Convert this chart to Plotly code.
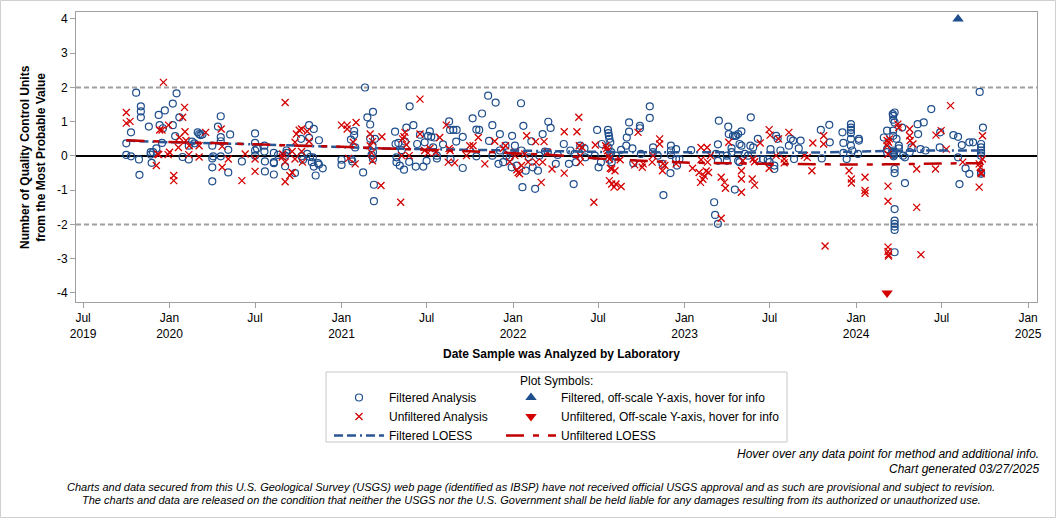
import plotly.graph_objects as go

# ---------------- data ----------------
filtered = [
("2019-10-01",0.37),("2019-10-01",0.03),("2019-10-11",0.69),("2019-10-11",-0.01),("2019-10-22",1.85),
("2019-10-28",-0.10),("2019-10-29",-0.55),("2019-11-01",1.45),("2019-11-01",1.30),("2019-11-01",1.13),
("2019-11-18",0.86),("2019-11-22",0.11),("2019-11-22",0.04),("2019-11-24",-0.20),("2019-11-27",0.11),
("2019-12-04",0.22),("2019-12-09",1.20),("2019-12-11",0.90),("2019-12-16",0.38),("2019-12-18",0.81),
("2019-12-22",1.33),("2020-01-08",1.53),("2020-01-08",0.90),("2020-01-13",0.58),("2020-01-16",1.83),
("2020-01-22",1.13),("2020-01-29",-0.03),("2020-02-11",-0.10),("2020-02-11",0.30),("2020-02-18",0.42),
("2020-02-23",0.37),("2020-03-01",0.69),("2020-03-04",0.64),("2020-03-07",0.61),("2020-03-11",0.63),
("2020-04-01",0.30),("2020-04-01",-0.07),("2020-04-01",-0.33),("2020-04-01",-0.74),("2020-04-03",-0.01),
("2020-04-13",0.86),("2020-04-19",1.16),("2020-04-19",0.55),("2020-04-19",0.43),("2020-04-19",-0.01),
("2020-05-05",0.18),("2020-05-05",-0.48),("2020-05-09",0.63),("2020-06-03",-0.16),("2020-07-01",0.66),
("2020-07-01",0.38),("2020-07-01",0.16),("2020-07-01",0.01),("2020-07-05",0.22),("2020-07-21",0.30),
("2020-07-21",0.13),("2020-07-22",-0.16),("2020-07-22",-0.45),("2020-08-10",0.09),("2020-08-10",-0.18),
("2020-08-10",-0.21),("2020-08-10",-0.54),("2020-08-19",0.03),("2020-09-03",0.01),("2020-09-03",-0.30),
("2020-09-06",0.16),("2020-09-06",0.09),("2020-09-24",-0.50),("2020-10-07",0.50),("2020-10-08",-0.01),
("2020-10-11",-0.11),("2020-10-20",0.06),("2020-10-24",0.90),("2020-10-24",0.53),("2020-10-26",-0.03),
("2020-10-30",-0.18),("2020-11-01",-0.04),("2020-11-03",0.79),("2020-11-03",-0.31),("2020-11-07",-0.57),
("2020-11-12",-0.21),("2020-11-14",-0.25),("2020-11-14",0.46),("2020-11-22",-0.36),("2021-01-01",-0.11),
("2021-01-01",-0.26),("2021-01-21",0.48),("2021-01-22",-0.09),("2021-01-24",-0.16),("2021-01-28",0.73),
("2021-01-28",0.61),("2021-01-30",0.25),("2021-02-16",-0.48),("2021-02-20",2.00),("2021-02-25",1.13),
("2021-03-03",0.92),("2021-03-03",0.51),("2021-03-06",0.03),("2021-03-08",0.30),("2021-03-09",1.29),
("2021-03-09",0.11),("2021-03-09",-0.09),("2021-03-11",-0.84),("2021-03-11",-1.32),("2021-03-13",0.50),
("2021-04-25",0.71),("2021-04-26",0.35),("2021-04-28",-0.04),("2021-04-28",-0.18),("2021-05-02",0.38),
("2021-05-05",-0.28),("2021-05-09",0.17),("2021-05-14",-0.40),("2021-05-16",0.42),("2021-05-19",0.83),
("2021-05-25",-0.17),("2021-05-26",1.45),("2021-06-03",0.90),("2021-06-08",-0.31),("2021-06-11",0.35),
("2021-06-17",0.62),("2021-06-24",-0.31),("2021-06-27",0.40),("2021-07-01",-0.14),("2021-07-04",0.59),
("2021-07-08",0.72),("2021-07-11",0.56),("2021-07-15",0.25),("2021-07-18",0.54),("2021-07-23",0.01),
("2021-07-23",-0.07),("2021-08-05",0.34),("2021-08-18",1.01),("2021-08-20",0.76),("2021-08-21",-0.09),
("2021-08-27",0.76),("2021-09-02",0.42),("2021-09-03",0.76),("2021-09-16",0.56),("2021-09-16",-0.35),
("2021-10-07",1.10),("2021-10-15",0.77),("2021-10-15",-0.01),("2021-10-21",0.76),("2021-10-27",1.24),
("2021-11-09",1.76),("2021-11-11",0.44),("2021-11-18",0.90),("2021-11-18",0.01),("2021-11-25",1.56),
("2021-12-01",-0.23),("2021-12-04",0.64),("2021-12-04",0.16),("2021-12-11",-0.18),("2021-12-16",0.30),
("2021-12-18",0.01),("2021-12-25",-0.04),("2021-12-29",-0.33),("2021-12-30",0.59),("2022-01-05",0.30),
("2022-01-09",-0.28),("2022-01-18",1.54),("2022-01-19",0.16),("2022-01-21",-0.91),("2022-01-23",0.88),
("2022-01-28",-0.43),("2022-02-04",-0.04),("2022-02-09",0.43),("2022-02-12",-0.33),("2022-02-17",-0.96),
("2022-02-23",-0.43),("2022-02-26",0.01),("2022-03-05",0.64),("2022-03-10",0.13),("2022-03-16",0.11),
("2022-03-17",1.00),("2022-03-22",0.82),("2022-04-02",-0.23),("2022-04-06",0.03),("2022-04-19",0.35),
("2022-04-30",-0.23),("2022-05-03",0.16),("2022-05-10",-0.82),("2022-05-12",0.06),("2022-05-15",-0.18),
("2022-05-24",0.30),("2022-06-02",0.22),("2022-06-04",-0.04),("2022-06-24",0.01),("2022-06-29",0.76),
("2022-07-02",-0.33),("2022-07-07",-0.18),("2022-07-09",0.35),("2022-07-22",0.76),("2022-07-23",0.67),
("2022-07-23",0.25),("2022-07-24",0.59),("2022-07-25",0.50),("2022-07-25",-0.11),("2022-07-27",0.40),
("2022-07-29",0.11),("2022-07-30",-0.18),("2022-08-08",0.01),("2022-08-19",0.18),("2022-08-30",0.30),
("2022-08-31",0.54),("2022-09-05",0.98),("2022-09-05",0.71),("2022-09-12",0.22),("2022-09-14",-0.21),
("2022-09-28",0.88),("2022-09-28",0.81),("2022-09-30",0.06),("2022-10-19",1.45),("2022-10-19",1.11),
("2022-10-26",0.25),("2022-10-26",0.11),("2022-11-05",0.01),("2022-11-15",-0.23),("2022-11-17",-1.14),
("2022-12-02",-0.50),("2022-12-03",0.30),("2022-12-03",0.16),("2022-12-03",0.03),("2022-12-14",0.20),
("2022-12-14",-0.09),("2022-12-16",-0.28),("2022-12-21",-0.09),("2023-01-15",0.17),("2023-03-05",-1.35),
("2023-03-07",-1.72),("2023-03-09",0.06),("2023-03-13",-1.98),("2023-03-13",0.34),("2023-03-13",-0.14),
("2023-03-15",1.03),("2023-04-01",0.01),("2023-04-01",-0.14),("2023-04-04",0.86),("2023-04-05",0.64),
("2023-04-11",0.23),("2023-04-11",0.11),("2023-04-14",0.59),("2023-04-18",-0.98),("2023-04-18",0.59),
("2023-04-21",0.59),("2023-04-25",0.64),("2023-04-25",-0.14),("2023-04-28",0.35),("2023-04-28",-0.18),
("2023-05-02",0.72),("2023-05-02",0.30),("2023-05-09",0.06),("2023-05-16",0.01),("2023-05-21",0.30),
("2023-05-22",1.13),("2023-05-27",0.25),("2023-06-03",-0.09),("2023-06-06",0.50),("2023-06-17",-0.09),
("2023-06-27",-0.11),("2023-07-01",-0.18),("2023-07-03",0.20),("2023-07-11",-0.28),("2023-07-11",-0.38),
("2023-07-15",0.59),("2023-07-18",0.50),("2023-07-24",0.16),("2023-08-11",0.30),("2023-08-15",0.50),
("2023-08-20",0.45),("2023-08-22",-0.09),("2023-09-01",0.22),("2023-09-05",0.45),("2023-10-18",0.76),
("2023-10-20",-0.07),("2023-11-05",0.91),("2023-11-06",0.40),("2023-12-03",0.69),("2023-12-05",0.38),
("2023-12-05",0.09),("2023-12-12",-0.09),("2023-12-21",0.93),("2023-12-21",0.83),("2023-12-21",0.76),
("2023-12-21",0.67),("2023-12-21",0.50),("2023-12-21",0.30),("2023-12-24",0.16),("2024-01-05",0.06),
("2024-01-07",0.50),("2024-01-07",0.45),("2024-02-29",0.54),("2024-03-07",0.74),("2024-03-07",0.20),
("2024-03-07",0.11),("2024-03-19",1.22),("2024-03-20",1.17),("2024-03-20",1.06),("2024-03-20",0.74),
("2024-03-20",0.59),("2024-03-21",0.16),("2024-03-21",0.12),("2024-03-21",0.09),("2024-03-21",0.06),
("2024-03-21",0.03),("2024-03-21",-0.01),("2024-03-23",1.27),("2024-03-23",0.98),("2024-03-23",-0.38),
("2024-03-23",-0.50),("2024-03-23",-1.55),("2024-03-23",-1.89),("2024-03-23",-1.98),("2024-03-23",-2.06),
("2024-03-23",-2.16),("2024-03-23",-2.81),("2024-03-27",0.50),("2024-04-01",0.22),("2024-04-01",0.30),
("2024-04-08",0.83),("2024-04-10",0.01),("2024-04-14",-0.04),("2024-04-14",-0.79),("2024-04-24",0.11),
("2024-04-28",0.25),("2024-05-11",0.93),("2024-05-12",0.64),("2024-05-17",0.20),("2024-05-24",0.98),
("2024-05-28",0.16),("2024-06-09",1.37),("2024-06-27",0.25),("2024-06-28",0.69),("2024-07-26",0.61),
("2024-08-05",0.56),("2024-08-05",-0.04),("2024-08-08",-0.82),("2024-08-13",0.32),("2024-08-21",-0.36),
("2024-08-29",-0.52),("2024-08-29",0.40),("2024-09-06",0.40),("2024-09-20",1.87),("2024-09-23",0.35),
("2024-09-23",0.25),("2024-09-23",0.16),("2024-09-23",0.09),("2024-09-23",0.01),("2024-09-23",-0.48),
("2024-09-23",-0.52),("2024-09-27",0.83),
]

unfiltered = [
("2019-10-01",1.27),("2019-10-01",0.96),("2019-10-09",1.01),("2019-12-04",-0.28),("2019-12-07",0.06),
("2019-12-09",0.04),("2019-12-11",0.76),("2019-12-16",0.76),("2019-12-19",2.15),("2019-12-29",0.04),
("2019-12-30",0.90),("2020-01-01",0.11),("2020-01-10",-0.57),("2020-01-10",-0.72),("2020-01-20",0.25),
("2020-01-22",0.54),("2020-01-29",1.13),("2020-02-02",1.42),("2020-02-03",0.71),("2020-02-05",0.45),
("2020-02-11",0.04),("2020-02-12",0.30),("2020-03-04",0.30),("2020-03-04",-0.03),("2020-03-18",0.69),
("2020-04-20",0.79),("2020-04-22",0.28),("2020-04-22",-0.33),("2020-05-05",-0.09),("2020-06-03",-0.72),
("2020-06-10",0.06),("2020-07-01",-0.09),("2020-07-01",-0.45),("2020-08-28",-0.03),("2020-08-29",0.06),
("2020-09-03",1.56),("2020-09-03",-0.18),("2020-09-03",-0.75),("2020-09-13",-0.57),("2020-09-18",-0.48),
("2020-09-18",0.13),("2020-09-24",-0.09),("2020-09-24",0.40),("2020-09-27",0.64),("2020-10-03",0.75),
("2020-10-08",0.79),("2020-10-08",0.13),("2020-10-10",-0.18),("2020-10-20",0.72),("2020-10-24",0.43),
("2021-01-01",0.90),("2021-01-13",0.90),("2021-01-13",0.79),("2021-01-16",-0.07),("2021-01-26",0.40),
("2021-01-30",-0.23),("2021-02-01",0.98),("2021-03-03",0.64),("2021-03-03",0.30),("2021-03-06",0.09),
("2021-03-08",-0.14),("2021-03-08",0.42),("2021-03-26",-0.86),("2021-03-28",0.56),("2021-05-07",-1.35),
("2021-05-09",0.01),("2021-05-11",0.50),("2021-05-14",0.56),("2021-05-16",0.69),("2021-05-19",0.33),
("2021-05-25",0.01),("2021-06-17",1.66),("2021-06-17",0.64),("2021-06-27",0.16),("2021-07-04",0.09),
("2021-07-08",0.22),("2021-07-21",0.11),("2021-07-29",0.54),("2021-08-12",0.90),("2021-08-16",-0.18),
("2021-08-18",0.22),("2021-08-20",0.16),("2021-08-30",-0.20),("2021-09-24",0.01),("2021-10-01",0.30),
("2021-10-08",0.30),("2021-10-19",0.54),("2021-11-02",-0.23),("2021-11-23",0.43),("2021-12-11",0.22),
("2021-12-16",0.30),("2021-12-25",-0.17),("2022-01-05",0.11),("2022-01-05",0.01),("2022-01-09",-0.40),
("2022-01-12",-0.48),("2022-01-15",-0.52),("2022-01-19",-0.28),("2022-01-26",0.06),("2022-01-30",0.59),
("2022-02-02",-0.18),("2022-02-18",0.42),("2022-02-19",-0.18),("2022-03-02",-0.77),("2022-03-05",-0.18),
("2022-03-08",0.42),("2022-03-15",0.11),("2022-03-25",-0.38),("2022-04-20",0.71),("2022-04-20",-0.50),
("2022-05-17",0.71),("2022-05-21",1.13),("2022-05-22",0.30),("2022-05-24",-0.18),("2022-05-24",0.01),
("2022-05-28",0.25),("2022-06-22",-1.35),("2022-06-25",0.32),("2022-07-17",0.30),("2022-07-19",0.22),
("2022-07-21",0.15),("2022-07-23",0.00),("2022-07-25",-0.09),("2022-07-25",-0.72),("2022-07-27",-0.36),
("2022-07-30",-0.38),("2022-07-30",-0.82),("2022-08-04",-0.91),("2022-08-06",-0.43),("2022-08-08",-0.82),
("2022-08-17",-0.11),("2022-08-19",-0.89),("2022-09-17",-0.26),("2022-09-24",0.69),("2022-10-03",-0.33),
("2022-10-05",-0.23),("2022-10-24",-0.18),("2022-10-26",0.01),("2022-11-09",0.50),("2022-11-09",0.35),
("2022-11-15",-0.43),("2022-11-16",-0.23),("2022-11-20",-0.28),("2022-12-14",-0.23),("2023-01-18",-0.36),
("2023-02-01",-0.48),("2023-02-04",-0.77),("2023-02-05",0.25),("2023-02-05",-0.11),("2023-02-09",-0.68),
("2023-02-12",-0.58),("2023-02-16",-0.44),("2023-02-18",0.25),("2023-02-19",-0.18),("2023-02-21",-0.48),
("2023-02-25",0.01),("2023-03-20",-1.82),("2023-03-20",-0.62),("2023-03-27",-0.77),("2023-03-29",-0.94),
("2023-04-05",0.40),("2023-05-02",-0.43),("2023-05-02",-0.67),("2023-05-02",-1.06),("2023-05-05",-0.14),
("2023-05-25",-0.67),("2023-05-27",-0.09),("2023-05-30",-0.85),("2023-05-30",-0.17),("2023-06-11",0.38),
("2023-06-30",0.77),("2023-06-30",-0.36),("2023-07-02",0.61),("2023-07-15",0.01),("2023-07-20",0.50),
("2023-08-01",-0.20),("2023-08-01",-0.09),("2023-08-11",0.69),("2023-09-13",0.01),("2023-09-19",-0.04),
("2023-09-29",-0.43),("2023-10-01",0.38),("2023-10-24",0.59),("2023-10-24",0.35),("2023-10-27",-2.63),
("2023-12-17",-0.43),("2023-12-22",-0.67),("2023-12-22",-0.79),("2024-01-20",-0.62),("2024-01-20",-1.01),
("2024-01-20",-1.09),("2024-03-07",0.45),("2024-03-07",0.30),("2024-03-09",0.05),("2024-03-09",-0.88),
("2024-03-09",-1.32),("2024-03-09",-2.66),("2024-03-09",-2.79),("2024-03-10",0.40),("2024-03-10",-2.88),
("2024-03-10",-2.92),("2024-03-12",0.50),("2024-03-30",0.93),("2024-04-01",0.83),("2024-04-24",0.79),
("2024-04-24",0.59),("2024-04-25",0.45),("2024-05-01",0.35),("2024-05-09",-0.38),("2024-05-09",-1.50),
("2024-05-18",-2.88),("2024-06-18",-0.38),("2024-06-19",0.61),("2024-06-30",0.74),("2024-07-11",0.20),
("2024-07-20",1.47),("2024-08-15",-0.18),("2024-09-19",-0.23),("2024-09-19",-0.91),("2024-09-21",-0.33),
("2024-09-23",-0.48),("2024-09-23",-0.52),("2024-09-26",0.59),("2024-09-26",-0.09),
]

filtered_offscale = [("2024-08-05", 4.0)]
unfiltered_offscale = [("2024-03-07", -4.0)]

loess_dates = ["2019-10-01","2020-01-01","2020-04-01","2020-07-01","2020-10-01","2021-01-01",
               "2021-04-01","2021-07-01","2021-10-01","2022-01-01","2022-04-01","2022-07-01",
               "2022-10-01","2023-01-01","2023-04-01","2023-07-01","2023-10-01","2024-01-01",
               "2024-04-01","2024-07-01","2024-09-27"]
filtered_loess = [0.45,0.40,0.37,0.34,0.30,0.26,0.22,0.20,0.18,0.16,0.14,0.12,
                  0.11,0.11,0.11,0.10,0.10,0.13,0.15,0.16,0.16]
unfiltered_loess = [0.46,0.41,0.38,0.34,0.30,0.27,0.22,0.18,0.14,0.08,0.02,-0.07,
                    -0.14,-0.19,-0.21,-0.23,-0.24,-0.25,-0.24,-0.22,-0.21]

x_tick_dates = ["2019-07-01","2020-01-01","2020-07-01","2021-01-01","2021-07-01","2022-01-01",
                "2022-07-01","2023-01-01","2023-07-01","2024-01-01","2024-07-01","2025-01-01"]
x_tick_labels = ["Jul<br>2019","Jan<br>2020","Jul","Jan<br>2021","Jul","Jan<br>2022",
                 "Jul","Jan<br>2023","Jul","Jan<br>2024","Jul","Jan<br>2025"]
y_tick_vals = [-4,-3,-2,-1,0,1,2,3,4]
y_tick_labels = ["-4","-3","-2","-1","0","1","2","3","4"]

# ---------------- styling ----------------
FONT = "Liberation Sans, Arial, sans-serif"
BLUE = "#1f4e8c"
RED = "#d40000"
AXIS = "#a0a0a0"

W, H = 1056, 518
L, R, T, B = 76, 19, 12, 216
PW, PH = W - L - R, H - T - B

def px(x):  # paper x from pixel
    return (x - L) / PW

def py(y):  # paper y from pixel
    return (H - B - y) / PH

fig = go.Figure()

fig.add_trace(go.Scatter(
    x=[d for d, _ in filtered], y=[v for _, v in filtered], mode="markers",
    name="Filtered Analysis", legend="legend",
    marker=dict(symbol="circle-open", size=7, color=BLUE, line=dict(width=1.2, color=BLUE))))
fig.add_trace(go.Scatter(
    x=[d for d, _ in unfiltered], y=[v for _, v in unfiltered], mode="markers",
    name="Unfiltered Analysis", legend="legend",
    marker=dict(symbol="x-thin", size=7, color=RED, line=dict(width=1.3, color=RED))))
fig.add_trace(go.Scatter(
    x=[d for d, _ in filtered_offscale], y=[v for _, v in filtered_offscale], mode="markers",
    name="Filtered, off-scale Y-axis, hover for info", legend="legend2",
    marker=dict(symbol="triangle-up", size=10, color=BLUE)))
fig.add_trace(go.Scatter(
    x=[d for d, _ in unfiltered_offscale], y=[v for _, v in unfiltered_offscale], mode="markers",
    name="Unfiltered, Off-scale Y-axis, hover for info", legend="legend2",
    marker=dict(symbol="triangle-down", size=10, color=RED)))
fig.add_trace(go.Scatter(
    x=loess_dates, y=filtered_loess, mode="lines", line_shape="spline",
    name="Filtered LOESS", legend="legend",
    line=dict(color="#2a5696", width=2.5, dash="9px,4px,9px,4px,2px,4px")))
fig.add_trace(go.Scatter(
    x=loess_dates, y=unfiltered_loess, mode="lines", line_shape="spline",
    name="Unfiltered LOESS", legend="legend2",
    line=dict(color="#c00000", width=2.5, dash="18px,9px,6px,9px")))

shapes = [
    dict(type="line", xref="paper", x0=0, x1=1, yref="y", y0=2, y1=2,
         line=dict(color=AXIS, width=2, dash="5px,3px"), layer="below"),
    dict(type="line", xref="paper", x0=0, x1=1, yref="y", y0=-2, y1=-2,
         line=dict(color=AXIS, width=2, dash="5px,3px"), layer="below"),
    dict(type="line", xref="paper", x0=0, x1=1, yref="y", y0=0, y1=0,
         line=dict(color="#000000", width=2), layer="below"),
    # legend box
    dict(type="rect", xref="paper", yref="paper", x0=px(326), x1=px(787), y0=py(442), y1=py(372),
         line=dict(color="#c8c8c8", width=1)),
    # outer border
    dict(type="rect", xref="paper", yref="paper", x0=px(0.5), x1=px(1055.5), y0=py(517.5), y1=py(0.5),
         line=dict(color="#d0d0d0", width=1)),
]

annotations = [
    dict(text="<b>Number of Quality Control Units<br>from the Most Probable Value</b>",
         xref="paper", yref="paper", x=px(33), y=py(157), textangle=-90,
         xanchor="center", yanchor="middle", showarrow=False,
         font=dict(family=FONT, size=12, color="#000")),
    dict(text="<b>Date Sample was Analyzed by Laboratory</b>",
         xref="paper", yref="paper", x=px(561), y=py(354),
         xanchor="center", yanchor="middle", showarrow=False,
         font=dict(family=FONT, size=12, color="#000")),
    dict(text="Plot Symbols:", xref="paper", yref="paper", x=px(556), y=py(381),
         xanchor="center", yanchor="middle", showarrow=False,
         font=dict(family=FONT, size=12, color="#000")),
    dict(text="<i>Hover over any data point for method and additional info.</i>",
         xref="paper", yref="paper", x=px(1041), y=py(454),
         xanchor="right", yanchor="middle", showarrow=False,
         font=dict(family=FONT, size=12, color="#000")),
    dict(text="<i>Chart generated 03/27/2025</i>",
         xref="paper", yref="paper", x=px(1041), y=py(469),
         xanchor="right", yanchor="middle", showarrow=False,
         font=dict(family=FONT, size=12, color="#000")),
    dict(text="<i>Charts and data secured from this U.S. Geological Survey (USGS) web page (identified as IBSP) have not received official USGS approval and as such are provisional and subject to revision.</i>",
         xref="paper", yref="paper", x=px(531), y=py(487),
         xanchor="center", yanchor="middle", showarrow=False,
         font=dict(family=FONT, size=11, color="#000")),
    dict(text="<i>The charts and data are released on the condition that neither the USGS nor the U.S. Government shall be held liable for any damages resulting from its authorized or unauthorized use.</i>",
         xref="paper", yref="paper", x=px(531), y=py(500),
         xanchor="center", yanchor="middle", showarrow=False,
         font=dict(family=FONT, size=11, color="#000")),
]

legend_common = dict(orientation="v", xanchor="left", yanchor="top", itemwidth=50,
                     bgcolor="rgba(0,0,0,0)", borderwidth=0, traceorder="normal",
                     font=dict(family=FONT, size=12, color="#000"), tracegroupgap=0)

fig.update_layout(
    width=W, height=H, autosize=False,
    margin=dict(l=L, r=R, t=T, b=B, pad=0),
    paper_bgcolor="white", plot_bgcolor="white",
    font=dict(family=FONT, size=12, color="#000"),
    showlegend=True,
    legend=dict(x=px(329), y=py(383), **legend_common),
    legend2=dict(x=px(501), y=py(383), **legend_common),
    xaxis=dict(type="date", range=["2019-06-16", "2025-01-20"],
               tickvals=x_tick_dates, ticktext=x_tick_labels,
               ticks="outside", ticklen=5, tickcolor=AXIS, tickwidth=1,
               showline=True, linecolor=AXIS, linewidth=1, mirror=True,
               showgrid=False, zeroline=False,
               tickfont=dict(family=FONT, size=12, color="#000")),
    yaxis=dict(range=[-4.263, 4.204], tickvals=y_tick_vals, ticktext=y_tick_labels,
               ticks="outside", ticklen=5, tickcolor=AXIS, tickwidth=1,
               showline=True, linecolor=AXIS, linewidth=1, mirror=True,
               showgrid=False, zeroline=False,
               tickfont=dict(family=FONT, size=12, color="#000")),
    shapes=shapes, annotations=annotations,
)

fig.write_html("out.html")
